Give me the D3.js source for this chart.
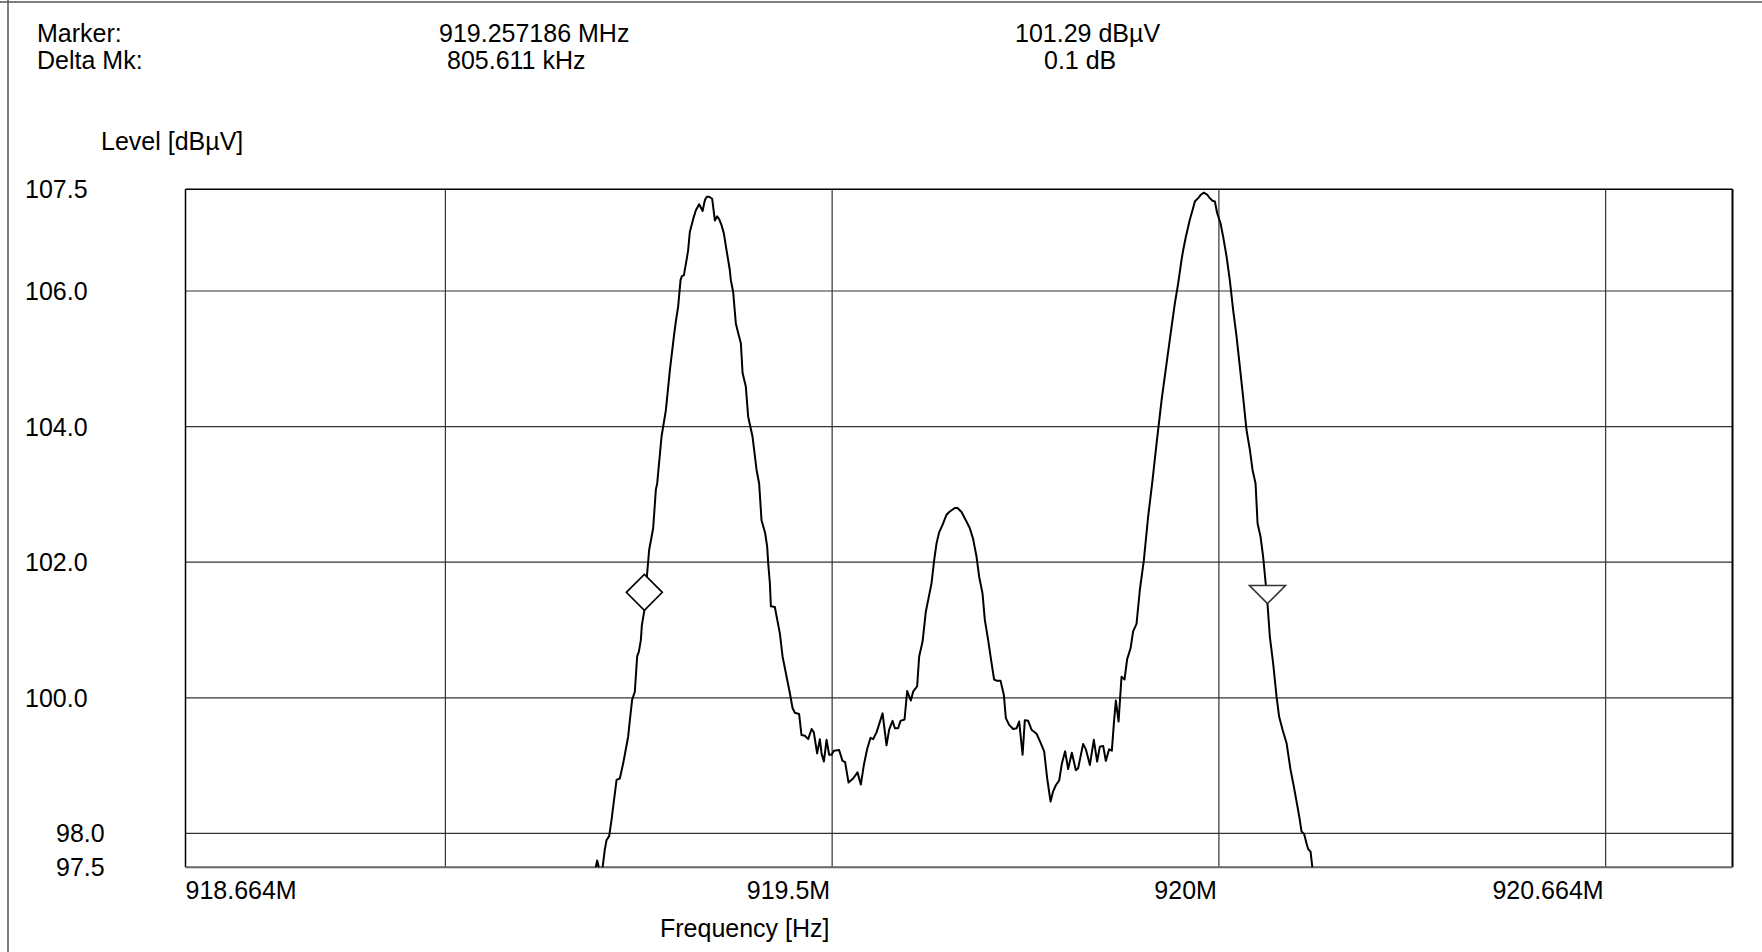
<!DOCTYPE html>
<html>
<head>
<meta charset="utf-8">
<script src="https://cdn.jsdelivr.net/npm/d3@7/dist/d3.min.js"></script>
<style>
  html, body { margin: 0; padding: 0; background: #fff; }
  svg { display: block; }
  text { font-family: "Liberation Sans", Arial, Helvetica, sans-serif; font-size: 25px; fill: #000; }
  .tick { font-size: 26.5px; }
</style>
</head>
<body>
<svg id="chart" width="1762" height="952"></svg>
<script>
// Spectrum trace: frequency (MHz) and level (dBµV)
const freqMHz = [
  919.1939, 919.1962, 919.1990, 919.2029, 919.2061, 919.2083, 919.2117, 919.2148, 919.2169, 919.2213,
  919.2255, 919.2298, 919.2363, 919.2385, 919.2414, 919.2449, 919.2479, 919.2501, 919.2527, 919.2540,
  919.257186, 919.2608, 919.2634, 919.2686, 919.2721, 919.2738, 919.2794, 919.2850, 919.2902, 919.2954,
  919.2979, 919.3009, 919.3040, 919.3057, 919.3083, 919.3118, 919.3138, 919.3160, 919.3203, 919.3238,
  919.3281, 919.3299, 919.3325, 919.3345, 919.3358, 919.3380, 919.3410, 919.3449, 919.3462, 919.3484,
  919.3513, 919.3539, 919.3570, 919.3600, 919.3635, 919.3677, 919.3690, 919.3720, 919.3755, 919.3785,
  919.3820, 919.3842, 919.3884, 919.3914, 919.3971, 919.4023, 919.4056, 919.4087, 919.4134, 919.4160,
  919.4175, 919.4195, 919.4208, 919.4259, 919.4324, 919.4359, 919.4411, 919.4453, 919.4488, 919.4518,
  919.4573, 919.4604, 919.4647, 919.4690, 919.4734, 919.4763, 919.4806, 919.4841, 919.4863, 919.4893,
  919.4928, 919.4961, 919.4992, 919.5022, 919.5090, 919.5134, 919.5168, 919.5212, 919.5271, 919.5328,
  919.5371, 919.5410, 919.5452, 919.5496, 919.5530, 919.5574, 919.5652, 919.5703, 919.5737, 919.5781,
  919.5811, 919.5853, 919.5884, 919.5936, 919.5970, 919.6017, 919.6047, 919.6099, 919.6125, 919.6169,
  919.6211, 919.6241, 919.6285, 919.6319, 919.6350, 919.6383, 919.6427, 919.6479, 919.6513, 919.6586,
  919.6621, 919.6673, 919.6728, 919.6780, 919.6823, 919.6867, 919.6900, 919.6944, 919.6974, 919.7017,
  919.7061, 919.7094, 919.7133, 919.7177, 919.7220, 919.7246, 919.7288, 919.7340, 919.7384, 919.7418,
  919.7462, 919.7491, 919.7534, 919.7578, 919.7643, 919.7694, 919.7741, 919.7780, 919.7824, 919.7857,
  919.7892, 919.7935, 919.7970, 919.8012, 919.8051, 919.8099, 919.8151, 919.8180, 919.8245, 919.8280,
  919.8332, 919.8383, 919.8426, 919.8461, 919.8504, 919.8538, 919.8581, 919.8616, 919.8642, 919.8668,
  919.8703, 919.8741, 919.8780, 919.8814, 919.8858, 919.8891, 919.8935, 919.8978, 919.9030, 919.9085,
  919.9142, 919.9194, 919.9259, 919.9323, 919.9388, 919.9431, 919.9473, 919.9517, 919.9538, 919.9573,
  919.9624, 919.9659, 919.9689, 919.9732, 919.9767, 919.9805, 919.9848, 919.9883, 919.9918, 919.9948,
  919.9977, 920.0021, 920.0055, 920.0099, 920.0141, 920.0184, 920.0228, 920.0271, 920.0313, 920.0357,
  920.0400, 920.0435, 920.0474, 920.0500, 920.0538, 920.0572, 920.0607, 920.062797, 920.0659, 920.0701,
  920.0745, 920.0779, 920.0823, 920.0875, 920.0926, 920.0969, 920.1017, 920.1046, 920.1068, 920.1102,
  920.1133, 920.1154, 920.1185, 920.1211
];
const levelDbuV = [
  97.47, 97.60, 97.47, 97.47, 97.76, 97.90, 97.96, 98.20, 98.39, 98.79,
  98.81, 99.03, 99.43, 99.67, 99.97, 100.09, 100.61, 100.68, 100.85, 101.07,
  101.29, 101.83, 102.18, 102.50, 103.07, 103.16, 103.85, 104.24, 104.83, 105.33,
  105.55, 105.77, 106.16, 106.22, 106.23, 106.46, 106.60, 106.87, 107.06, 107.19,
  107.28, 107.24, 107.18, 107.29, 107.35, 107.39, 107.39, 107.36, 107.24, 107.04,
  107.10, 107.06, 106.97, 106.85, 106.60, 106.31, 106.16, 105.99, 105.52, 105.38,
  105.23, 104.79, 104.59, 104.15, 103.85, 103.36, 103.16, 102.62, 102.43, 102.23,
  101.96, 101.69, 101.35, 101.34, 100.95, 100.61, 100.31, 100.07, 99.85, 99.78,
  99.76, 99.45, 99.44, 99.39, 99.54, 99.49, 99.18, 99.39, 99.18, 99.06,
  99.38, 99.16, 99.16, 99.22, 99.23, 99.07, 99.05, 98.75, 98.81, 98.90,
  98.72, 99.01, 99.24, 99.41, 99.39, 99.49, 99.77, 99.30, 99.53, 99.66,
  99.55, 99.55, 99.66, 99.68, 100.10, 99.96, 100.09, 100.17, 100.61, 100.83,
  101.27, 101.44, 101.69, 102.03, 102.28, 102.44, 102.55, 102.70, 102.74, 102.80,
  102.80, 102.74, 102.62, 102.50, 102.34, 102.08, 101.79, 101.54, 101.15, 100.85,
  100.51, 100.27, 100.25, 100.25, 100.04, 99.70, 99.60, 99.54, 99.55, 99.65,
  99.16, 99.67, 99.66, 99.53, 99.47, 99.34, 99.21, 98.81, 98.47, 98.62,
  98.71, 98.78, 99.03, 99.21, 98.95, 99.19, 98.93, 98.96, 99.32, 99.24,
  99.01, 99.38, 99.06, 99.28, 99.29, 99.07, 99.24, 99.22, 99.62, 99.96,
  99.65, 100.31, 100.27, 100.57, 100.73, 100.98, 101.09, 101.59, 102.03, 102.67,
  103.21, 103.75, 104.39, 104.93, 105.47, 105.82, 106.11, 106.46, 106.60, 106.80,
  107.05, 107.19, 107.32, 107.37, 107.42, 107.45, 107.42, 107.37, 107.33, 107.32,
  107.15, 107.00, 106.80, 106.51, 106.16, 105.72, 105.33, 104.88, 104.44, 103.95,
  103.66, 103.36, 103.16, 102.57, 102.38, 102.08, 101.66, 101.39, 100.90, 100.51,
  100.02, 99.72, 99.53, 99.33, 98.94, 98.69, 98.39, 98.20, 98.03, 97.99,
  97.85, 97.77, 97.73, 97.47
];

// Axis ranges, grid lines and tick labels
const freqRangeMHz = [918.664, 920.664];
const levelRange = [97.5, 107.5];
const levelTicks = [107.5, 106.0, 104.0, 102.0, 100.0, 98.0, 97.5];
const freqGridMHz = [919.0, 919.5, 920.0, 920.5];
const freqTickValues = [918.664, 919.5, 920.0, 920.5];
const freqTickLabels = ["918.664M", "919.5M", "920M", "920.664M"];

// Marker readout
const markerFreqMHz = 919.257186;
const markerLevel = 101.29;
const deltaFreqKHz = 805.611;
const deltaLevel = 0.1;

const svg = d3.select("#chart");
const W = 1762, H = 952;
const plot = { left: 185.5, right: 1732.5, top: 189.3, bottom: 867.3 };

const x = d3.scaleLinear().domain(freqRangeMHz).range([plot.left, plot.right]);
const y = d3.scaleLinear().domain(levelRange).range([plot.bottom, plot.top]);

// page frame
svg.append("line").attr("x1", 0).attr("x2", W).attr("y1", 2).attr("y2", 2)
  .attr("stroke", "#555").attr("stroke-width", 1.5);
svg.append("line").attr("x1", 8).attr("x2", 8).attr("y1", 0).attr("y2", H)
  .attr("stroke", "#555").attr("stroke-width", 1.5);

// header readout
const header = svg.append("g");
header.append("text").attr("x", 37).attr("y", 42).text("Marker:");
header.append("text").attr("x", 37).attr("y", 69).text("Delta Mk:");
header.append("text").attr("x", 439).attr("y", 42).text(markerFreqMHz.toFixed(6) + " MHz");
header.append("text").attr("x", 447).attr("y", 69).text(deltaFreqKHz.toFixed(3) + " kHz");
header.append("text").attr("x", 1015).attr("y", 42).text(markerLevel.toFixed(2) + " dBµV");
header.append("text").attr("x", 1044).attr("y", 69).text(deltaLevel.toFixed(1) + " dB");

svg.append("text").attr("x", 101).attr("y", 150).text("Level [dBµV]");
svg.append("text").attr("x", 660).attr("y", 937).text("Frequency [Hz]");

// grid
const grid = svg.append("g").attr("stroke", "#333").attr("stroke-width", 1.2);
grid.selectAll("line.h").data(levelTicks.filter(v => v > levelRange[0] && v < levelRange[1]))
  .join("line").attr("class", "h")
  .attr("x1", plot.left).attr("x2", plot.right)
  .attr("y1", d => y(d)).attr("y2", d => y(d));
grid.selectAll("line.v").data(freqGridMHz)
  .join("line").attr("class", "v")
  .attr("x1", d => x(d)).attr("x2", d => x(d))
  .attr("y1", plot.top).attr("y2", plot.bottom);

// plot border
svg.append("line").attr("x1", plot.left).attr("x2", plot.right).attr("y1", plot.top).attr("y2", plot.top)
  .attr("stroke", "#000").attr("stroke-width", 1.5);
svg.append("line").attr("x1", plot.left).attr("x2", plot.left).attr("y1", plot.top).attr("y2", plot.bottom)
  .attr("stroke", "#000").attr("stroke-width", 1.5);
svg.append("line").attr("x1", plot.right).attr("x2", plot.right).attr("y1", plot.top).attr("y2", plot.bottom)
  .attr("stroke", "#000").attr("stroke-width", 2);
svg.append("line").attr("x1", plot.left).attr("x2", plot.right).attr("y1", plot.bottom).attr("y2", plot.bottom)
  .attr("stroke", "#666").attr("stroke-width", 2);

// y tick labels
svg.append("g").attr("class", "tick").selectAll("text").data(levelTicks).join("text")
  .attr("x", d => d >= 100 ? 25 : 56)
  .attr("y", d => y(d))
  .attr("dy", "0.36em")
  .text(d => d.toFixed(1));

// x tick labels
svg.append("g").attr("class", "tick").selectAll("text").data(freqTickValues).join("text")
  .attr("x", (d, i) => i === 0 ? x(d) : x(d) - 2)
  .attr("y", 899)
  .attr("text-anchor", (d, i) => i === 0 ? "start" : "end")
  .text((d, i) => freqTickLabels[i]);

// trace
svg.append("clipPath").attr("id", "plotClip").append("rect")
  .attr("x", plot.left).attr("y", plot.top)
  .attr("width", plot.right - plot.left).attr("height", plot.bottom - plot.top);

const trace = freqMHz.map((f, i) => [f, levelDbuV[i]]);
svg.append("path")
  .attr("clip-path", "url(#plotClip)")
  .attr("fill", "none").attr("stroke", "#000").attr("stroke-width", 2)
  .attr("stroke-linejoin", "round")
  .attr("d", d3.line().x(d => x(d[0])).y(d => y(d[1]))(trace));

// markers: diamond at the marker, inverted triangle at the delta marker
const mx = x(markerFreqMHz), my = y(markerLevel);
const dmx = x(markerFreqMHz + deltaFreqKHz / 1000), dmy = y(markerLevel + deltaLevel);
const s = 18;
svg.append("path")
  .attr("d", `M${mx},${my} L${mx + s},${my - s} L${mx},${my - 2 * s} L${mx - s},${my - s} Z`)
  .attr("fill", "#fff").attr("stroke", "#000").attr("stroke-width", 1.6);
svg.append("path")
  .attr("d", `M${dmx},${dmy} L${dmx + s},${dmy - s} L${dmx - s},${dmy - s} Z`)
  .attr("fill", "#fff").attr("stroke", "#333").attr("stroke-width", 1.6);
</script>
</body>
</html>
